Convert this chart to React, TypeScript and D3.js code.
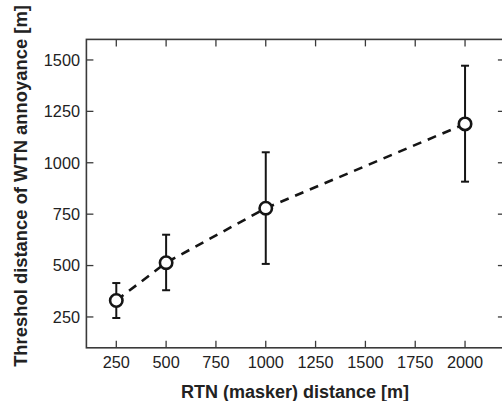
import React from "react";
import { scaleLinear, line, curveLinear } from "d3";

const width = 502;
const height = 401;

// RTN (masker) distance [m]
const maskerDistance = [250, 500, 1000, 2000];
// threshold distance of WTN annoyance [m]
const thresholdMean = [330, 514, 779, 1189];
const thresholdLow = [245, 380, 508, 908];
const thresholdHigh = [415, 650, 1051, 1472];

const xTicks = [250, 500, 750, 1000, 1250, 1500, 1750, 2000];
const yTicks = [250, 500, 750, 1000, 1250, 1500];

const x = scaleLinear().domain([100, 2200]).range([86.4, 504.9]);
const y = scaleLinear().domain([100, 1600]).range([347.8, 39.4]);

const tickLen = 7;
const axisColor = "#3a3a3a";
const ink = "#151515";
const font = "'Liberation Sans', Arial, sans-serif";

const points = maskerDistance.map((d, i) => ({
  x: d,
  mean: thresholdMean[i],
  lo: thresholdLow[i],
  hi: thresholdHigh[i],
}));

const meanLine = line<{ x: number; mean: number }>()
  .x((d) => x(d.x))
  .y((d) => y(d.mean))
  .curve(curveLinear);

const App = () => {
  const [x0, x1] = x.range();
  const [y0, y1] = y.range();
  return (
    <svg
      width={width}
      height={height}
      style={{ position: "absolute", left: 0, top: 0, background: "#fff" }}
    >
      {/* frame */}
      <rect
        x={x0}
        y={y1}
        width={x1 - x0}
        height={y0 - y1}
        fill="none"
        stroke={axisColor}
        strokeWidth={1.6}
      />
      {xTicks.map((t) => (
        <g key={`x${t}`}>
          <line x1={x(t)} x2={x(t)} y1={y0} y2={y0 - tickLen} stroke={axisColor} strokeWidth={1.3} />
          <line x1={x(t)} x2={x(t)} y1={y1} y2={y1 + tickLen} stroke={axisColor} strokeWidth={1.3} />
          <text
            x={x(t)}
            y={368.3}
            textAnchor="middle"
            fontFamily={font}
            fontSize={16.3}
            fill="#222"
          >
            {t}
          </text>
        </g>
      ))}
      {yTicks.map((t) => (
        <g key={`y${t}`}>
          <line x1={x0} x2={x0 + tickLen} y1={y(t)} y2={y(t)} stroke={axisColor} strokeWidth={1.3} />
          <line x1={x1} x2={x1 - tickLen} y1={y(t)} y2={y(t)} stroke={axisColor} strokeWidth={1.3} />
          <text
            x={80}
            y={y(t)}
            dy="0.36em"
            textAnchor="end"
            fontFamily={font}
            fontSize={16.3}
            fill="#222"
          >
            {t}
          </text>
        </g>
      ))}
      {/* error bars */}
      {points.map((p) => (
        <g key={`e${p.x}`} stroke={ink} strokeWidth={2}>
          <line x1={x(p.x)} x2={x(p.x)} y1={y(p.lo)} y2={y(p.hi)} />
          <line x1={x(p.x) - 4} x2={x(p.x) + 4} y1={y(p.lo)} y2={y(p.lo)} />
          <line x1={x(p.x) - 4} x2={x(p.x) + 4} y1={y(p.hi)} y2={y(p.hi)} />
        </g>
      ))}
      <path
        d={meanLine(points) ?? ""}
        fill="none"
        stroke={ink}
        strokeWidth={2.6}
        strokeDasharray="9 7"
      />
      {points.map((p) => (
        <circle
          key={`c${p.x}`}
          cx={x(p.x)}
          cy={y(p.mean)}
          r={6.2}
          fill="#fff"
          stroke={ink}
          strokeWidth={2.6}
        />
      ))}
      <text
        x={295}
        y={398}
        textAnchor="middle"
        fontFamily={font}
        fontSize={18}
        fontWeight="bold"
        fill="#222"
      >
        RTN (masker) distance [m]
      </text>
      <text
        transform={`translate(27, 186) rotate(-90)`}
        textAnchor="middle"
        fontFamily={font}
        fontSize={18.4}
        fontWeight="bold"
        fill="#222"
      >
        Threshol distance of WTN annoyance [m]
      </text>
    </svg>
  );
};

export default App;
